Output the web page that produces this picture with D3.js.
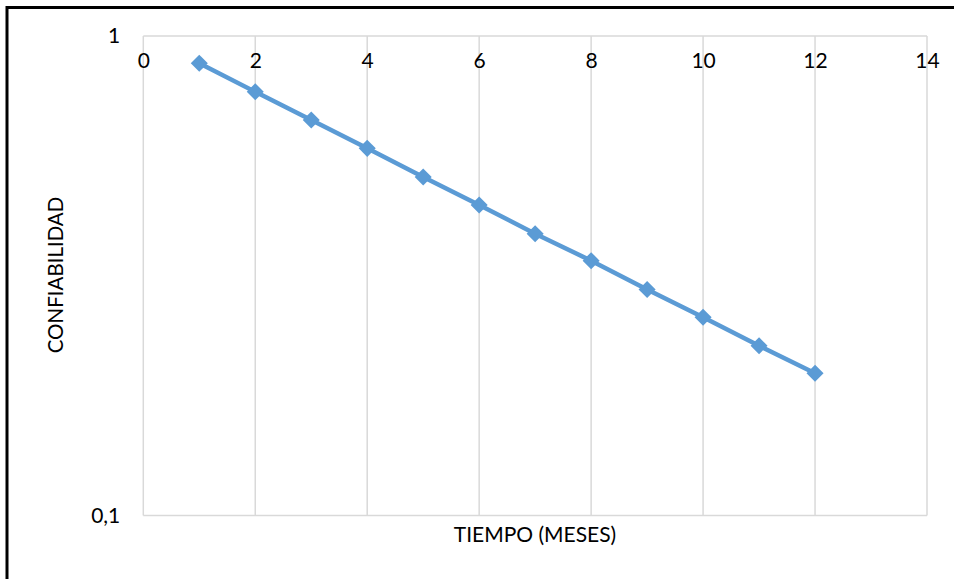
<!DOCTYPE html>
<html>
<head>
<meta charset="utf-8">
<script src="https://cdn.jsdelivr.net/npm/d3@7"></script>
<style>
  html, body { margin: 0; padding: 0; background: #fff; overflow: hidden; }
  text { font-family: Lato, "Open Sans", sans-serif; fill: #000; }
</style>
</head>
<body>
<div id="chart"></div>
<script>
// months and reliability
const months = [1, 2, 3, 4, 5, 6, 7, 8, 9, 10, 11, 12];
const reliability = [0.877, 0.765, 0.668, 0.583, 0.508, 0.444, 0.387, 0.340, 0.296, 0.259, 0.226, 0.198];
const xTicks = [0, 2, 4, 6, 8, 10, 12, 14];
const yTicks = [0.1, 1];
const yTickLabels = ["0,1", "1"];

const width = 954;
const height = 579;
const margin = { top: 36, right: 27, bottom: 63.5, left: 143.3 };

const svg = d3
  .select("#chart")
  .append("svg")
  .attr("width", width)
  .attr("height", height);

// outer frame (only left and top edge fall inside the picture)
svg
  .append("rect")
  .attr("x", 7)
  .attr("y", 7.5)
  .attr("width", 1200)
  .attr("height", 1200)
  .attr("fill", "none")
  .attr("stroke", "#000")
  .attr("stroke-width", 3);

const xScale = d3
  .scaleLinear()
  .domain([0, 14])
  .range([margin.left, width - margin.right]);

const yScale = d3
  .scaleLog()
  .domain([0.1, 1])
  .range([height - margin.bottom, margin.top]);

// gridlines
svg
  .append("g")
  .selectAll("line")
  .data(xTicks)
  .enter()
  .append("line")
  .attr("x1", (d) => xScale(d))
  .attr("x2", (d) => xScale(d))
  .attr("y1", yScale(1))
  .attr("y2", yScale(0.1))
  .attr("stroke", "#d9d9d9")
  .attr("stroke-width", 1.5);

svg
  .append("g")
  .selectAll("line")
  .data(yTicks)
  .enter()
  .append("line")
  .attr("x1", xScale(0))
  .attr("x2", xScale(14))
  .attr("y1", (d) => yScale(d))
  .attr("y2", (d) => yScale(d))
  .attr("stroke", "#d9d9d9")
  .attr("stroke-width", 1.5);

// x axis labels sit near the top (axis crosses at 1)
const xAxis = svg
  .append("g")
  .attr("transform", `translate(0, ${yScale(1) + 25})`)
  .call(d3.axisBottom(xScale).tickValues(xTicks).tickSize(0).tickPadding(0));
xAxis.select(".domain").remove();
xAxis.selectAll("text").attr("font-size", 21).attr("font-family", "Lato").attr("dy", "0.35em");

const yAxis = svg
  .append("g")
  .attr("transform", `translate(${xScale(0) - 23}, 0)`)
  .call(
    d3.axisLeft(yScale)
      .tickValues(yTicks)
      .tickFormat((d, i) => yTickLabels[i])
      .tickSize(0)
      .tickPadding(0)
  );
yAxis.select(".domain").remove();
yAxis.selectAll("text").attr("font-size", 21).attr("font-family", "Lato");

// series
const line = d3
  .line()
  .x((d, i) => xScale(months[i]))
  .y((d) => yScale(d));

svg
  .append("path")
  .datum(reliability)
  .attr("d", line)
  .attr("fill", "none")
  .attr("stroke", "#5b9bd5")
  .attr("stroke-width", 4.5)
  .attr("stroke-linejoin", "round");

svg
  .selectAll(".pt")
  .data(reliability)
  .enter()
  .append("path")
  .attr("class", "pt")
  .attr("d", d3.symbol().type(d3.symbolSquare).size(145))
  .attr("transform", (d, i) => `translate(${xScale(months[i])}, ${yScale(d)}) rotate(45)`)
  .attr("fill", "#5b9bd5");

// axis titles
svg
  .append("text")
  .attr("x", 535)
  .attr("y", 535)
  .attr("dy", "0.35em")
  .attr("text-anchor", "middle")
  .attr("font-size", 21)
  .text("TIEMPO (MESES)");

svg
  .append("text")
  .attr("transform", "translate(56, 275) rotate(-90)")
  .attr("dy", "0.35em")
  .attr("text-anchor", "middle")
  .attr("font-size", 20.5)
  .text("CONFIABILIDAD");
</script>
</body>
</html>
